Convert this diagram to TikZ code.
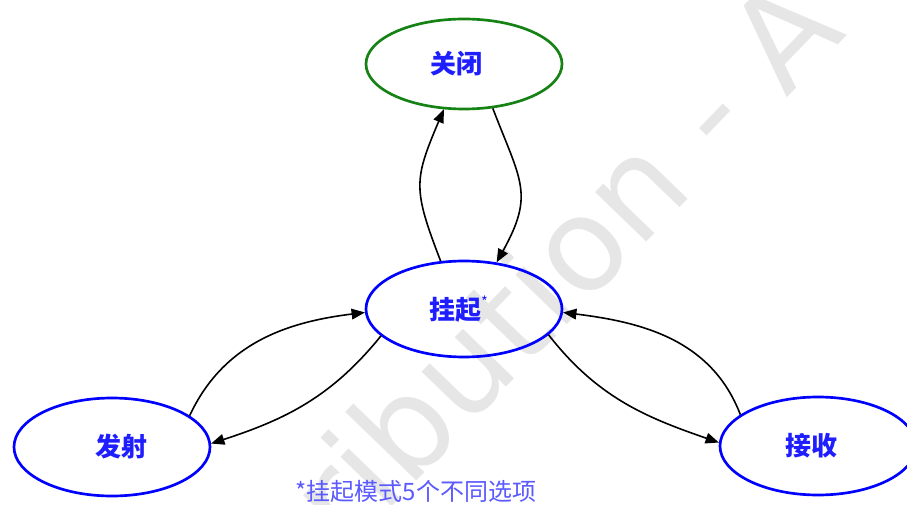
\documentclass[tikz,border=0pt]{standalone}
\usepackage{fontspec}
\newfontfamily\cjk{Noto Sans CJK SC}
\newfontfamily\wmfont{DejaVu Sans}
\usetikzlibrary{shapes.geometric,arrows.meta}
\definecolor{stateblue}{RGB}{0,0,255}
\definecolor{stategreen}{RGB}{20,130,20}
\definecolor{labelblue}{RGB}{30,30,255}
\definecolor{noteblue}{RGB}{90,90,255}
\definecolor{wmgray}{RGB}{230,230,230}
\begin{document}
\begin{tikzpicture}[x=0.75pt,y=0.75pt,
  state/.style={ellipse, draw=stateblue, line width=2pt, minimum width=147pt,
    minimum height=73.5pt, inner sep=0pt,
    font=\cjk\bfseries\fontsize{19.5}{20}\selectfont, text=labelblue},
  conn/.style={draw=black, line width=1.2pt, -{Triangle[length=10pt,width=8pt]}},
  note/.style={font=\cjk\fontsize{18}{18}\selectfont, text=noteblue, inner sep=0pt},
  watermark/.style={font=\wmfont\fontsize{97.5}{97.5}\selectfont, text=wmgray, inner sep=0pt}]
\useasboundingbox (0,0) rectangle (907,504);
\clip (0,0) rectangle (907,504);
\fill[white] (0,0) rectangle (907,504);
\node[watermark, rotate=46, anchor=base east] (wm) at (848,470) {Distribution - A};

\node[state, draw=stategreen, minimum height=67.5pt] (off) at (464,440) {\hspace*{-12pt}关闭};
\node[state, minimum height=72pt] (susp) at (464,195) {\hspace*{-8pt}挂起\raisebox{0.45em}{\mdseries\fontsize{11}{11}\selectfont *}};
\node[state] (tx) at (112,57) {\hspace*{14pt}发射};
\node[state] (rx) at (818,58) {\hspace*{-10pt}接收};
\node[note, anchor=base] (fn) at (416,4) {*挂起模式5个不同选项};

\draw[conn] (susp.116) to[out=111,in=247,looseness=1.3] (off.246);
\draw[conn] (off.303) to[out=291,in=61,looseness=1.3] (susp.55);
\draw[conn] (susp.198) to[out=231,in=18] (tx.2);
\draw[conn] (tx.22) to[out=65,in=187] (susp.182);
\draw[conn] (susp.-17) to[out=-52,in=161] (rx.178);
\draw[conn] (rx.158) to[out=111,in=-7] (susp.-2);
\end{tikzpicture}
\end{document}
